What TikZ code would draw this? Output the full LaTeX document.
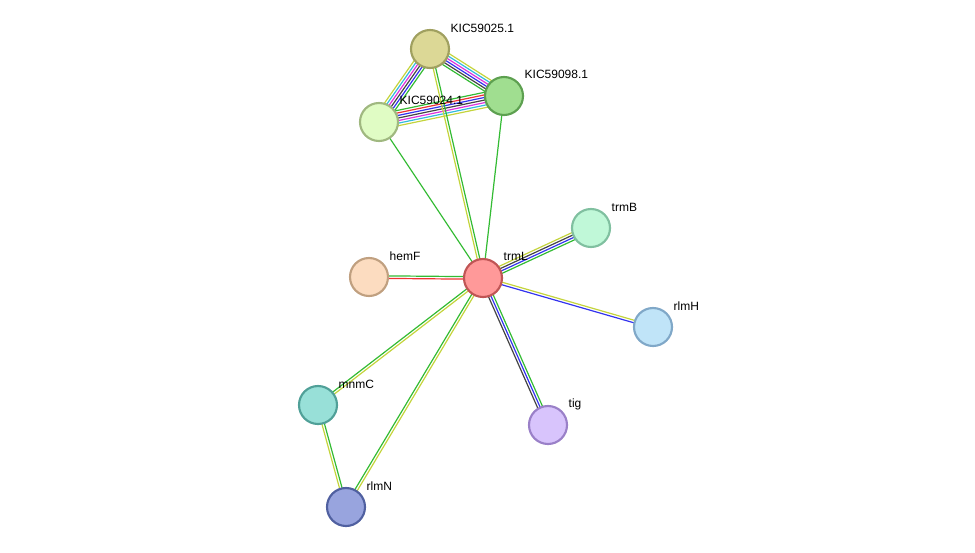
\documentclass[tikz,border=0pt]{standalone}
\usepackage{fontspec}
\setmainfont{Liberation Sans}
\usetikzlibrary{calc}
\definecolor{cgreen}{HTML}{33BB33}
\definecolor{cyell}{HTML}{C4D43C}
\definecolor{cblue}{HTML}{3333EE}
\definecolor{cblack}{HTML}{444444}
\definecolor{cmag}{HTML}{DD33DD}
\definecolor{ccyan}{HTML}{33BBDD}
\definecolor{cred}{HTML}{EE3333}
\tikzset{
  prot/.style={circle, draw, line width=1.6pt, minimum size=28.5pt, inner sep=0pt},
  lab/.style={anchor=west, font=\fontsize{9}{10}\selectfont},
  ln/.style={line width=0.9pt}
}
\newcommand\linkc[4]{%
  \foreach \c [count=\i] in {#4} {
    \pgfmathsetmacro\o{(\i-(#3+1)/2)*1.9}
    \draw [ln, \c] ($(#1)!\o pt!90:(#2)$) -- ($(#2)!\o pt!-90:(#1)$);
  }}
\begin{document}
\begin{tikzpicture}[x=0.75pt, y=-0.75pt]
  \useasboundingbox (0,0) rectangle (975,553);
  % positions
  \coordinate (p25) at (430,49);
  \coordinate (p98) at (504,96);
  \coordinate (p24) at (379,122);
  \coordinate (ptrmB) at (591,228);
  \coordinate (phemF) at (369,277);
  \coordinate (ptrmL) at (483,278);
  \coordinate (prlmH) at (653,327);
  \coordinate (pmnmC) at (318,405);
  \coordinate (ptig) at (548,425);
  \coordinate (prlmN) at (346,507);
  % links
  \linkc{p25}{p98}{6}{cgreen,cblack,cblue,cmag,ccyan,cyell}
  \linkc{p25}{p24}{6}{cyell,ccyan,cmag,cblack,cblue,cgreen}
  \linkc{p24}{p98}{7}{cyell,ccyan,cmag,cblack,cblue,cred,cgreen}
  \linkc{p25}{ptrmL}{2}{cyell,cgreen}
  \linkc{p98}{ptrmL}{1}{cgreen}
  \linkc{p24}{ptrmL}{1}{cgreen}
  \linkc{ptrmL}{ptrmB}{4}{cgreen,cblue,cblack,cyell}
  \linkc{phemF}{ptrmL}{2}{cred,cgreen}
  \linkc{ptrmL}{prlmH}{2}{cblue,cyell}
  \linkc{ptrmL}{ptig}{3}{cblack,cblue,cgreen}
  \linkc{ptrmL}{pmnmC}{2}{cgreen,cyell}
  \linkc{ptrmL}{prlmN}{2}{cgreen,cyell}
  \linkc{pmnmC}{prlmN}{2}{cyell,cgreen}
  % proteins
  \node [prot, fill={rgb,255:red,220;green,216;blue,150}, draw={rgb,255:red,160;green,160;blue,96}] (n25) at (p25) {};
  \node [prot, fill={rgb,255:red,160;green,222;blue,144}, draw={rgb,255:red,93;green,160;blue,80}] (n98) at (p98) {};
  \node [prot, fill={rgb,255:red,224;green,252;blue,196}, draw={rgb,255:red,160;green,184;blue,128}] (n24) at (p24) {};
  \node [prot, fill={rgb,255:red,192;green,248;blue,216}, draw={rgb,255:red,128;green,192;blue,160}] (ntrmB) at (ptrmB) {};
  \node [prot, fill={rgb,255:red,252;green,220;blue,192}, draw={rgb,255:red,192;green,160;blue,128}] (nhemF) at (phemF) {};
  \node [prot, fill={rgb,255:red,255;green,153;blue,153}, draw={rgb,255:red,192;green,85;blue,85}] (ntrmL) at (ptrmL) {};
  \node [prot, fill={rgb,255:red,192;green,228;blue,248}, draw={rgb,255:red,128;green,168;blue,200}] (nrlmH) at (prlmH) {};
  \node [prot, fill={rgb,255:red,152;green,224;blue,216}, draw={rgb,255:red,80;green,160;blue,152}] (nmnmC) at (pmnmC) {};
  \node [prot, fill={rgb,255:red,216;green,196;blue,252}, draw={rgb,255:red,154;green,128;blue,200}] (ntig) at (ptig) {};
  \node [prot, fill={rgb,255:red,152;green,164;blue,222}, draw={rgb,255:red,80;green,96;blue,160}] (nrlmN) at (prlmN) {};
  % labels
  \node [lab] at ($(p25)+(16,-21)$) {KIC59025.1};
  \node [lab] at ($(p98)+(16,-22)$) {KIC59098.1};
  \node [lab] at ($(p24)+(16,-22)$) {KIC59024.1};
  \node [lab] at ($(ptrmB)+(16,-21)$) {trmB};
  \node [lab] at ($(phemF)+(16,-21)$) {hemF};
  \node [lab] at ($(ptrmL)+(16,-22)$) {trmL};
  \node [lab] at ($(prlmH)+(16,-21)$) {rlmH};
  \node [lab] at ($(pmnmC)+(16,-21)$) {mnmC};
  \node [lab] at ($(ptig)+(16,-21)$) {tig};
  \node [lab] at ($(prlmN)+(16,-21)$) {rlmN};
\end{tikzpicture}
\end{document}
